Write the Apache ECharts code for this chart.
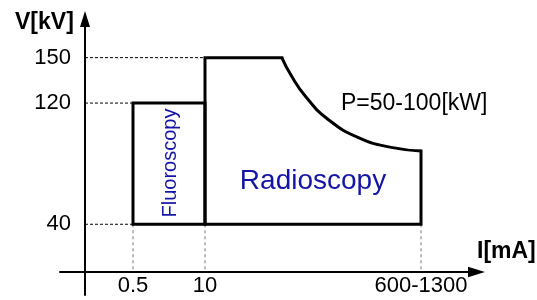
<!DOCTYPE html>
<html>
<head>
    <meta charset="utf-8">
    <title>ECharts</title>
    <script src="https://fastly.jsdelivr.net/npm/echarts@6/dist/echarts.min.js"></script>
</head>
<body style="margin:0">
    <div id="main" style="width: 537px;height:300px;"></div>
    <script type="text/javascript">
        var myChart = echarts.init(document.getElementById('main'));

        // x axis is not to scale: each current value sits at its own slot
        var xSlots = [1, 2.5, 7];
        var xLabels = ['0.5', '10', '600-1300'];
        var yTicks = [40, 120, 150];

        // fluoroscopy box (slot, kV)
        var fluoroI = [1, 1, 2.5, 2.5, 1];
        var fluoroV = [40, 120, 120, 40, 40];

        // radioscopy box without the power curve
        var radioI = [4.10, 2.5, 2.5, 7, 7];
        var radioV = [150, 150, 40, 40, 88.4];

        // constant power curve
        var powerI = [4.10, 4.29, 4.60, 5.06, 5.72, 6.41, 7];
        var powerV = [150, 138.5, 124.2, 109.3, 96.8, 90.6, 88.4];

        var axisV = 8.5; // where the I axis crosses the V axis

        function pairs(xs, ys) {
            return xs.map(function (x, i) { return [x, ys[i]]; });
        }

        var font = "'Liberation Sans', Arial, sans-serif";
        var arrow = 'path://M5,0 L10,16 L0,16 Z';

        var boxLine = { color: '#000', width: 3, cap: 'square', join: 'miter' };

        function guide(data, color, dash) {
            return {
                type: 'line', data: data, symbol: 'none', silent: true, z: 1,
                lineStyle: { color: color, width: 1, type: dash }
            };
        }

        option = {
            animation: false,
            grid: { left: 60, right: 60.5, top: 19, bottom: 5 },
            xAxis: {
                type: 'value',
                min: -0.5208, max: 8.156,
                offset: -23,
                axisLine: {
                    onZero: false,
                    symbol: ['none', arrow], symbolSize: [11, 17],
                    lineStyle: { color: '#000', width: 2 }
                },
                axisTick: { show: false },
                splitLine: { show: false },
                axisLabel: {
                    customValues: xSlots,
                    margin: 3,
                    fontSize: 22, fontFamily: font, color: '#000',
                    formatter: function (v) { return xLabels[xSlots.indexOf(v)]; }
                }
            },
            yAxis: {
                type: 'value',
                min: -6.7, max: 175.5,
                offset: -25,
                axisLine: {
                    onZero: false,
                    symbol: ['none', arrow], symbolSize: [13, 16],
                    lineStyle: { color: '#000', width: 2 }
                },
                axisTick: { show: false },
                splitLine: { show: false },
                axisLabel: {
                    customValues: yTicks,
                    margin: 14,
                    fontSize: 22, fontFamily: font, color: '#000'
                }
            },
            graphic: [
                { type: 'text', left: 15, top: 11, style: { text: 'V[kV]', font: 'bold 23px ' + font, fill: '#000' } },
                { type: 'text', left: 477, top: 240, style: { text: 'I[mA]', font: 'bold 23px ' + font, fill: '#000' } },
                { type: 'text', left: 341, top: 92, style: { text: 'P=50-100[kW]', font: '23px ' + font, fill: '#000' } },
                { type: 'text', x: 313, y: 181, style: { text: 'Radioscopy', font: '28px ' + font, fill: '#1515a5', align: 'center', verticalAlign: 'middle' } },
                { type: 'text', x: 170, y: 163, rotation: Math.PI / 2, style: { text: 'Fluoroscopy', font: '20px ' + font, fill: '#1515a5', align: 'center', verticalAlign: 'middle' } }
            ],
            series: [
                guide([[0, yTicks[2]], [xSlots[1], yTicks[2]]], '#000', [3, 2]),
                guide([[0, yTicks[1]], [xSlots[0], yTicks[1]]], '#000', [3, 2]),
                guide([[0, yTicks[0]], [xSlots[0], yTicks[0]]], '#000', [3, 2]),
                guide([[xSlots[0], yTicks[0]], [xSlots[0], axisV]], '#777', [3, 3]),
                guide([[xSlots[1], yTicks[0]], [xSlots[1], axisV]], '#777', [3, 3]),
                guide([[xSlots[2], yTicks[0]], [xSlots[2], axisV]], '#777', [3, 3]),
                { type: 'line', data: pairs(fluoroI, fluoroV), symbol: 'none', lineStyle: boxLine, z: 3 },
                { type: 'line', data: pairs(radioI, radioV), symbol: 'none', lineStyle: boxLine, z: 3 },
                { type: 'line', data: pairs(powerI, powerV), symbol: 'none', smooth: 0.5, lineStyle: { color: '#000', width: 3 }, z: 3 }
            ]
        };

        myChart.setOption(option);
    </script>
</body>
</html>
